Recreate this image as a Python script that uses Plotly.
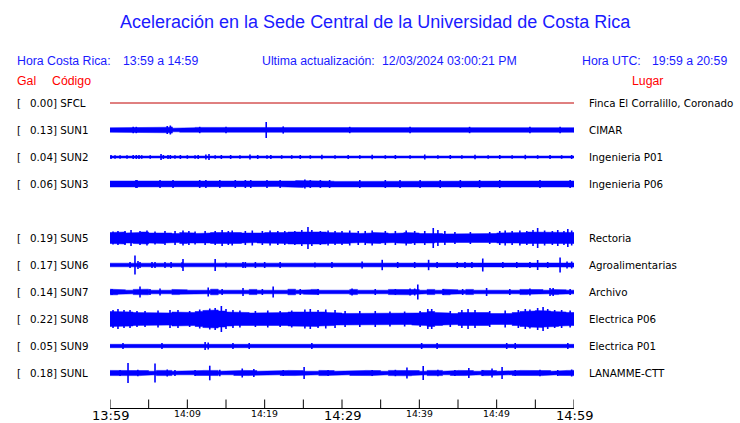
import plotly.graph_objects as go

# ---------------- data ----------------
codes = ["SFCL", "SUN1", "SUN2", "SUN3", "SUN5", "SUN6", "SUN7", "SUN8", "SUN9", "SUNL"]
places = ["Finca El Corralillo, Coronado", "CIMAR", "Ingenieria P01", "Ingenieria P06",
          "Rectoria", "Agroalimentarias", "Archivo", "Electrica P06", "Electrica P01", "LANAMME-CTT"]
gal = [0.00, 0.13, 0.04, 0.06, 0.19, 0.17, 0.14, 0.22, 0.05, 0.18]
slot = [0, 1, 2, 3, 5, 6, 7, 8, 9, 10]          # SUN4 slot empty

tick_minutes = [0, 5, 10, 15, 20, 25, 30, 35, 40, 45, 50, 55, 60]
big_labels = {0: "13:59", 30: "14:29", 60: "14:59"}
small_labels = {10: "14:09", 20: "14:19", 40: "14:39", 50: "14:49"}

# envelope half-width per minute (display units) and spikes (minute, amplitude)
env_SFCL = [0.0] * 60
spk_SFCL = []

env_SUN1 = [2.2,2.4,2.2,2.6,2.2,2.3,2.2,2.8,1.8,2.2,2.3,2.6,2.2,2.3,2.4,2.2,2.3,2.2,2.4,2.2,
            2.8,2.3,2.6,2.2,2.3,2.4,2.2,2.3,2.2,2.4,2.3,2.6,2.2,2.3,2.4,2.2,2.3,2.5,2.2,2.4,
            2.3,2.2,2.4,2.6,2.2,2.3,2.4,2.2,2.5,2.3,2.2,2.4,2.3,2.6,2.2,2.3,2.4,2.2,2.5,2.3]
spk_SUN1 = [(3.0,3.2),(3.4,3.2),(7.4,4.0),(7.8,4.5),(8.0,3.2),(11.6,3.2),(15.0,3.2),(20.2,8.0),
            (22.4,3.6),(31.0,3.2),(38.8,3.2),(46.5,3.2),(54.3,3.2),(58.2,3.2)]

env_SUN2 = [1.0] * 60
spk_SUN2 = [(0.13,2.0),(0.65,1.8),(1.3,1.8),(2.2,1.8),(3.0,2.0),(3.4,2.0),(3.75,2.0),(4.1,1.8),
            (5.2,1.8),(6.6,3.0),(6.9,2.0),(7.5,2.0),(7.8,2.0),(8.4,1.8),(9.1,2.0),(10.0,1.8),
            (11.0,1.8),(11.4,2.0),(12.4,2.5),(12.8,3.0),(13.6,1.8),(14.4,2.0),(15.6,2.0),(16.8,1.8),
            (18.1,2.5),(19.1,2.0),(20.3,1.8),(20.8,2.0),(22.2,1.8),(23.5,1.8),(24.6,2.0),(25.9,1.8),
            (27.4,2.2),(29.1,1.8),(30.8,2.0),(32.3,1.8),(33.9,2.2),(35.6,1.8),(36.9,2.0),(38.8,1.8),
            (40.7,2.5),(42.4,1.8),(44.0,2.0),(45.5,1.8),(47.2,2.2),(48.9,1.8),(50.4,2.0),(52.0,1.8),
            (53.7,2.2),(55.3,1.8),(56.9,2.0),(58.4,1.8),(59.7,2.0)]

env_SUN3 = [3.0,2.5,2.8,3.2,2.6,2.5,3.0,3.2,2.6,2.5,2.8,3.2,3.0,2.6,3.2,2.8,2.6,3.0,2.6,3.2,
            3.0,2.6,2.8,3.0,3.4,3.0,2.8,3.2,2.8,2.6,3.0,2.8,3.2,2.6,2.8,3.2,2.6,3.0,2.8,3.2,
            2.6,3.0,2.8,3.0,2.6,3.2,2.8,2.6,3.0,2.8,2.6,3.0,2.8,2.6,3.2,2.8,2.6,3.0,2.8,3.0]
spk_SUN3 = [(3.36,4.0),(3.49,4.0),(6.47,4.0),(8.15,4.0),(11.6,4.0),(12.4,4.0),(14.2,4.0),(16.2,4.0),
            (17.5,4.0),(18.2,4.0),(20.3,4.0),(22.0,4.0),(25.2,4.5),(25.9,4.0),(27.2,4.0),(28.4,4.0),
            (32.3,4.0),(35.6,4.0),(37.5,4.0),(40.1,4.0),(42.7,4.0),(45.3,4.0),(47.8,4.0),(50.4,4.0),
            (55.6,4.0),(59.5,4.0)]

env_SUN5 = [5.5,6.0,5.0,5.5,6.0,5.0,5.5,5.0,4.5,5.5,5.0,4.5,5.0,5.5,6.0,6.0,5.5,5.0,4.5,5.0,
            5.5,5.0,5.5,6.0,6.5,6.0,6.5,6.0,5.5,5.0,5.5,5.0,4.5,5.0,5.5,5.0,4.5,5.0,5.5,5.0,
            4.5,5.0,4.5,4.0,3.8,3.8,4.0,3.8,4.0,4.5,5.0,5.5,5.0,5.5,6.0,5.5,6.0,5.5,6.0,5.5]
spk_SUN5 = [(0.39,6.5),(1.03,7.0),(1.94,7.0),(2.72,8.0),(3.88,7.0),(4.78,7.5),(5.82,6.5),(7.11,7.0),
            (8.41,7.0),(9.44,7.5),(10.2,7.0),(11.0,6.5),(12.3,7.0),(13.6,7.0),(14.5,8.0),(15.3,7.0),
            (15.8,7.5),(17.5,7.0),(18.4,7.5),(19.7,7.0),(20.7,7.5),(21.7,7.0),(22.6,7.0),(23.9,7.0),
            (24.8,8.0),(25.6,11.0),(26.1,8.0),(27.2,7.0),(28.2,7.5),(29.1,7.0),(30.0,7.0),(31.0,7.5),
            (32.1,7.0),(33.0,7.0),(33.9,7.5),(35.6,7.0),(36.9,7.0),(38.3,7.5),(39.4,7.0),(40.7,7.0),
            (41.8,10.0),(42.4,8.0),(43.3,7.0),(44.6,6.0),(46.6,6.0),(49.1,6.0),(50.4,7.0),(51.1,7.5),
            (52.0,7.0),(53.0,7.5),(53.9,7.0),(54.7,8.0),(55.3,10.0),(56.2,7.5),(57.2,7.0),(57.9,8.0),
            (58.7,7.0),(59.2,9.0),(59.7,7.5)]

env_SUN6 = [1.8,2.0,1.8,2.2,1.8,1.8,2.0,1.8,1.8,2.0,1.8,1.8,2.2,1.8,1.8,2.0,1.8,2.2,1.8,1.8,
            2.0,1.8,1.8,1.8,2.0,1.8,1.8,2.0,1.8,1.8,1.8,2.0,1.8,1.8,2.2,1.8,1.8,2.0,1.8,1.8,
            2.0,1.8,1.8,2.0,1.8,2.2,1.8,2.0,1.8,1.8,2.0,1.8,1.8,2.2,1.8,1.8,2.0,1.8,2.2,2.0]
spk_SUN6 = [(2.59,3.0),(3.23,9.5),(3.62,4.0),(3.88,3.0),(5.43,3.0),(5.82,3.0),(7.11,3.0),(7.9,3.0),
            (9.31,2.8),(9.44,6.0),(13.6,6.0),(15.0,2.5),(17.2,3.0),(17.5,3.0),(18.8,3.0),(20.0,3.0),
            (22.0,3.0),(26.5,2.5),(28.7,3.0),(32.6,3.5),(35.2,5.2),(37.2,3.0),(39.4,3.0),(41.2,5.2),
            (42.3,3.0),(44.9,3.0),(45.9,3.0),(46.8,3.0),(48.2,6.5),(50.8,3.0),(52.6,3.0),(54.3,3.0),
            (55.3,5.0),(56.6,3.0),(58.2,7.5),(59.1,3.5),(59.7,3.5)]

env_SUN7 = [2.8,2.2,1.8,2.6,2.8,1.8,2.2,1.8,2.6,2.2,1.8,2.4,1.8,2.8,1.8,2.4,2.2,1.8,2.6,1.8,
            2.2,2.4,1.8,2.8,1.8,2.2,2.6,1.8,2.2,2.4,1.8,2.6,1.8,2.4,2.2,1.8,2.6,2.2,2.8,2.4,
            1.8,2.6,1.8,2.8,2.2,1.8,2.6,1.8,2.4,2.2,1.8,2.4,1.8,2.6,2.2,2.4,1.8,2.6,2.2,1.8]
spk_SUN7 = [(0.26,3.0),(3.88,5.5),(5.17,3.0),(6.47,3.5),(12.7,4.5),(14.5,3.0),(17.2,4.0),(19.7,3.0),
            (21.1,5.5),(24.6,3.0),(26.9,3.0),(31.3,3.5),(34.3,3.0),(36.9,3.0),(38.8,3.5),(39.4,3.5),
            (39.8,7.5),(43.1,3.0),(45.6,3.0),(48.7,4.0),(51.7,3.0),(54.3,3.5),(56.9,4.0),(57.3,4.0),
            (59.5,3.0)]

env_SUN8 = [7.5,7.0,7.0,6.5,6.0,6.0,6.5,6.0,7.0,7.0,6.5,7.5,8.5,9.0,8.0,7.0,6.5,6.5,6.0,6.0,
            6.5,6.0,6.5,7.0,7.5,7.0,7.5,7.0,6.5,6.0,5.5,5.5,6.0,5.5,6.0,5.5,5.5,6.0,5.5,6.0,
            6.5,7.5,6.5,6.0,5.5,6.5,7.0,7.0,6.5,5.5,6.0,5.5,6.5,7.5,8.0,8.5,8.0,7.5,7.0,6.5]
spk_SUN8 = [(0.39,9.0),(1.03,10.0),(1.81,9.0),(2.59,9.0),(3.49,8.0),(4.53,8.0),(6.21,8.5),(7.76,9.0),
            (8.79,9.0),(10.3,8.0),(11.6,9.5),(12.9,10.5),(13.6,11.0),(14.4,13.0),(15.0,10.0),
            (15.9,9.0),(16.8,8.5),(18.8,8.0),(20.4,8.5),(22.0,8.0),(23.5,8.5),(25.2,9.5),(25.9,10.0),
            (26.9,9.0),(27.9,9.5),(29.1,9.0),(30.4,8.0),(32.3,8.0),(34.3,8.0),(36.2,7.5),(38.1,7.5),
            (40.1,8.0),(41.1,10.0),(41.6,10.0),(44.0,8.0),(45.5,9.0),(46.3,10.0),(47.2,9.0),(49.1,8.0),
            (51.1,8.5),(52.8,9.0),(53.7,10.0),(54.3,9.5),(55.3,11.0),(56.0,12.0),(56.6,10.0),
            (57.5,9.0),(58.4,9.0),(59.5,8.5)]

env_SUN9 = [1.7] * 60
spk_SUN9 = [(1.68,3.0),(6.72,3.0),(12.3,4.0),(12.7,3.5),(15.9,3.0),(18.0,3.0),(26.1,3.0),(40.3,3.0),
            (42.3,3.0),(51.3,3.0),(52.4,3.0),(59.2,3.0)]

env_SUNL = [2.6,2.4,2.6,2.6,2.4,1.8,2.6,2.6,1.8,2.4,1.8,2.4,2.6,2.6,1.8,1.8,2.4,2.6,2.4,1.8,
            2.4,1.8,2.4,2.6,2.4,1.8,1.8,2.6,2.4,1.8,1.8,2.4,2.4,2.6,2.4,1.8,2.6,2.6,2.8,2.4,
            1.8,2.6,2.6,1.8,2.4,2.6,2.4,1.8,2.6,2.4,1.8,1.8,2.4,2.6,2.4,2.6,2.4,1.8,2.4,2.6]
spk_SUNL = [(2.33,10.0),(5.82,9.5),(12.9,7.3),(17.1,4.5),(18.6,4.0),(25.1,6.0),(38.4,5.5),(40.5,7.0),
            (46.4,5.0),(49.4,4.5),(50.7,6.0),(59.7,3.5),(1.3,3.0),(3.6,3.2),(7.4,3.5),(8.4,3.0),
            (11.0,3.0),(14.2,3.2),(22.4,3.0),(28.2,3.0),(33.9,3.0),(36.9,3.2),(42.4,3.2),(44.6,3.0),
            (48.2,3.0),(52.4,3.0),(55.6,3.2),(57.9,3.0)]

envs = [env_SFCL, env_SUN1, env_SUN2, env_SUN3, env_SUN5, env_SUN6, env_SUN7, env_SUN8, env_SUN9, env_SUNL]
spikes = [spk_SFCL, spk_SUN1, spk_SUN2, spk_SUN3, spk_SUN5, spk_SUN6, spk_SUN7, spk_SUN8, spk_SUN9, spk_SUNL]

# ---------------- figure ----------------
W, H = 740, 423
L, R, T, B = 110, 574, 90, 409   # plot area in pixels
BLUE = "#0000ff"
TXT_BLUE = "#1a1aff"
RED = "#ff0000"

def pxx(px):
    return (px - L) / (R - L)

def pyy(py):
    return (B - py) / (B - T)

fig = go.Figure()

for i, code in enumerate(codes):
    c = 103 + 27 * slot[i]
    env = envs[i]
    if max(env) == 0:
        fig.add_trace(go.Scatter(x=[0, 60], y=[c, c], mode="lines",
                                 line=dict(color="#c00000", width=1), hoverinfo="skip"))
        continue
    xs, ys_top, ys_bot = [], [], []
    for k, a in enumerate(env):
        xs += [k, k + 1]
        ys_top += [c - a, c - a]
        ys_bot += [c + a, c + a]
    fig.add_trace(go.Scatter(x=xs + xs[::-1], y=ys_top + ys_bot[::-1], mode="lines",
                             fill="toself", fillcolor=BLUE, line=dict(color=BLUE, width=0.5),
                             hoverinfo="skip"))
    sx, sy = [], []
    for t, a in spikes[i]:
        sx += [t, t, None]
        sy += [c - a, c + a, None]
    if sx:
        fig.add_trace(go.Scatter(x=sx, y=sy, mode="lines", line=dict(color=BLUE, width=1.6),
                                 hoverinfo="skip"))

# time axis: baseline and inward ticks
shapes = [dict(type="line", xref="x", yref="y", x0=0, x1=60, y0=B - 0.5, y1=B - 0.5,
               line=dict(color="black", width=1))]
for m in tick_minutes:
    shapes.append(dict(type="line", xref="x", yref="y", x0=m, x1=m, y0=B - 0.5, y1=B - 9.5,
                       line=dict(color="black", width=1)))

ann = []
ann.append(dict(text="Aceleración en la Sede Central de la Universidad de Costa Rica",
                x=pxx(375), y=pyy(22), xanchor="center", yanchor="middle",
                font=dict(family="Liberation Sans, Arial", size=18, color=TXT_BLUE)))
hdr = [("Hora Costa Rica:", 15), ("13:59 a 14:59", 120.5),
       ("Ultima actualización:", 260), ("12/03/2024 03:00:21 PM", 380),
       ("Hora UTC:", 580), ("19:59 a 20:59", 650)]
for s, x0 in hdr:
    ann.append(dict(text=s, x=pxx(x0), y=pyy(61), xanchor="left", yanchor="middle",
                    font=dict(family="Liberation Sans, Arial", size=12.3, color=TXT_BLUE)))
for s, x0 in [("Gal", 15), ("Código", 50), ("Lugar", 630)]:
    ann.append(dict(text=s, x=pxx(x0), y=pyy(80.5), xanchor="left", yanchor="middle",
                    font=dict(family="Liberation Sans, Arial", size=12.3, color=RED)))
LF = dict(family="DejaVu Sans", size=10.3, color="black")
for i, code in enumerate(codes):
    c = 103 + 27 * slot[i]
    ann.append(dict(text="[", x=pxx(14.5), y=pyy(c), xanchor="left", yanchor="middle", font=LF))
    ann.append(dict(text=f"{gal[i]:.2f}] {code}", x=pxx(27.5), y=pyy(c), xanchor="left",
                    yanchor="middle", font=LF))
    ann.append(dict(text=places[i], x=pxx(587), y=pyy(c), xanchor="left", yanchor="middle", font=LF))
for m, s in big_labels.items():
    ann.append(dict(text=s, x=m / 60, y=pyy(415.5), xanchor="center", yanchor="middle",
                    font=dict(family="DejaVu Sans", size=13, color="black")))
for m, s in small_labels.items():
    ann.append(dict(text=s, x=m / 60, y=pyy(413.5), xanchor="center", yanchor="middle",
                    font=dict(family="DejaVu Sans", size=9.3, color="black")))
for a in ann:
    a.update(xref="paper", yref="paper", showarrow=False)

fig.update_layout(
    width=W, height=H, showlegend=False,
    paper_bgcolor="white", plot_bgcolor="white",
    margin=dict(l=L, r=W - R, t=T, b=H - B, pad=0),
    annotations=ann, shapes=shapes,
    xaxis=dict(range=[0, 60], showgrid=False, zeroline=False, showline=False, ticks="",
               showticklabels=False, automargin=False, fixedrange=True),
    yaxis=dict(range=[B, T], showgrid=False, zeroline=False, showline=False, showticklabels=False,
               ticks="", automargin=False, fixedrange=True),
)
fig.write_html("out.html", config={"displayModeBar": False},
               post_script="document.body.style.margin='0';document.body.style.overflow='hidden';")
